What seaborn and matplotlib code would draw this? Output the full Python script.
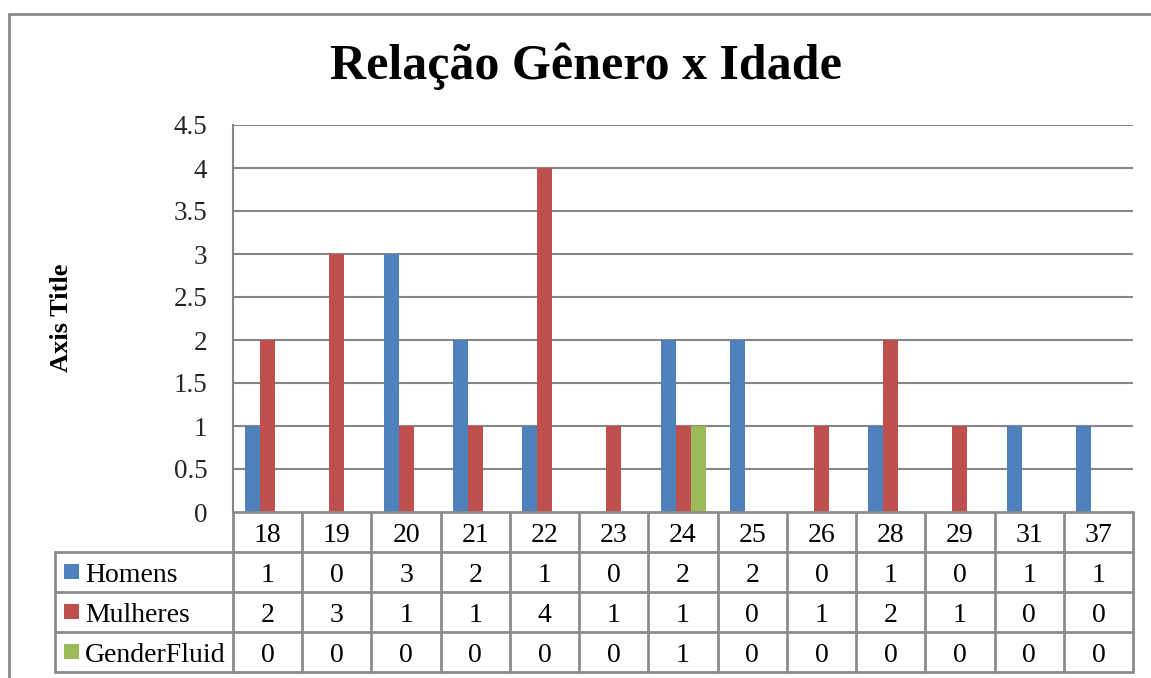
import matplotlib
matplotlib.use("Agg")
import matplotlib.pyplot as plt
import matplotlib.transforms as mtransforms
from matplotlib.lines import Line2D
from matplotlib.patches import Rectangle
import seaborn as sns
import pandas as pd

ages = ["18", "19", "20", "21", "22", "23", "24", "25", "26", "28", "29", "31", "37"]
homens = [1, 0, 3, 2, 1, 0, 2, 2, 0, 1, 0, 1, 1]
mulheres = [2, 3, 1, 1, 4, 1, 1, 0, 1, 2, 1, 0, 0]
genderfluid = [0, 0, 0, 0, 0, 0, 1, 0, 0, 0, 0, 0, 0]
series_names = ["Homens", "Mulheres", "GenderFluid"]
colors = ["#4F81BD", "#C0504D", "#9BBB59"]
yticks = [0, 0.5, 1, 1.5, 2, 2.5, 3, 3.5, 4, 4.5]
title = "Relação Gênero x Idade"
ytitle = "Axis Title"

sns.set_theme(style="white")
plt.rcParams["font.family"] = ["Liberation Serif", "DejaVu Serif"]

W, H = 1151, 678
fig = plt.figure(figsize=(W / 100, H / 100), dpi=100)
fig.patch.set_facecolor("white")

def fx(px):
    return px / W

def fy(py):
    return 1 - py / H

ax_l, ax_t, ax_r, ax_b = 233, 125, 1133, 512
ax = fig.add_axes([fx(ax_l), fy(ax_b), fx(ax_r - ax_l), (ax_b - ax_t) / H])

rows = []
for name, vals in zip(series_names, [homens, mulheres, genderfluid]):
    for a, v in zip(ages, vals):
        rows.append({"Idade": a, "Serie": name, "Valor": v})
df = pd.DataFrame(rows)

sns.barplot(data=df, x="Idade", y="Valor", hue="Serie", order=ages,
            hue_order=series_names, palette=colors, width=0.65, gap=0,
            saturation=1, ax=ax, legend=False, edgecolor="none", errorbar=None)

ax.set_xlim(-0.5, len(ages) - 0.5)
ax.set_ylim(0, 4.5)
ax.set_yticks(yticks)
ax.set_yticklabels([("%g" % t) for t in yticks], fontsize=19.5)
ax.tick_params(axis="y", length=0, pad=18.5)
ax.set_xticks([])
ax.set_xlabel("")
ax.set_ylabel("")
grid_c = "#868686"
for t in yticks[1:]:
    ax.axhline(t, color=grid_c, lw=1.5, zorder=0)
for s in ["top", "right", "bottom"]:
    ax.spines[s].set_visible(False)
ax.spines["left"].set_color(grid_c)
ax.spines["left"].set_linewidth(1.5)

# Data table below the axes
trans = mtransforms.blended_transform_factory(ax.transData, ax.transAxes)
ah = ax_b - ax_t
row_h = 40 / ah
txt_off = 3 / ah
nrows = 4  # header + 3 series
n = len(ages)
lc = "#8c8c8c"
lw = 2
for r in range(0, nrows + 1):
    y = -r * row_h
    ax.add_line(Line2D([-0.5, n - 0.5], [y, y], transform=trans, color=lc, lw=lw, clip_on=False))
for i in range(n + 1):
    x = i - 0.5
    ax.add_line(Line2D([x, x], [0, -nrows * row_h], transform=trans, color=lc, lw=lw, clip_on=False))
leg_l = 55
ftrans = fig.transFigure
for r in range(1, nrows + 1):
    ypx = ax_b + r * 40
    fig.add_artist(Line2D([fx(leg_l), fx(ax_l)], [fy(ypx), fy(ypx)], transform=ftrans, color=lc, lw=lw))
fig.add_artist(Line2D([fx(leg_l), fx(leg_l)], [fy(ax_b + 40), fy(ax_b + 160)], transform=ftrans, color=lc, lw=lw))

fs = 20
for i, a in enumerate(ages):
    ax.text(i, -0.5 * row_h - txt_off, a, transform=trans, ha="center", va="center", fontsize=fs, color="black")
for r, (name, vals, c) in enumerate(zip(series_names, [homens, mulheres, genderfluid], colors)):
    yc = -(r + 1.5) * row_h - txt_off
    for i, v in enumerate(vals):
        ax.text(i, yc, str(v), transform=trans, ha="center", va="center", fontsize=fs, color="black")
    ypx = ax_b + (r + 1.5) * 40
    fig.add_artist(Rectangle((fx(64), fy(ypx + 7)), fx(15), 15 / H, transform=ftrans,
                             facecolor=c, edgecolor="none"))
    fig.text(fx(85), fy(ypx + 3), name, ha="left", va="center", fontsize=fs, color="black")

fig.text(fx(586), fy(66), title, ha="center", va="center", fontsize=36, fontweight="bold", color="black")
fig.text(fx(62), fy(318), ytitle, ha="center", va="center", rotation=90, fontsize=19,
         fontweight="bold", color="black")

fig.add_artist(Line2D([fx(9), 1.0], [fy(14), fy(14)], transform=ftrans, color="#8a8a8a", lw=2))
fig.add_artist(Line2D([fx(9), fx(9)], [fy(14), 0.0], transform=ftrans, color="#8a8a8a", lw=2))

fig.savefig("out.png", dpi=100, facecolor="white")
